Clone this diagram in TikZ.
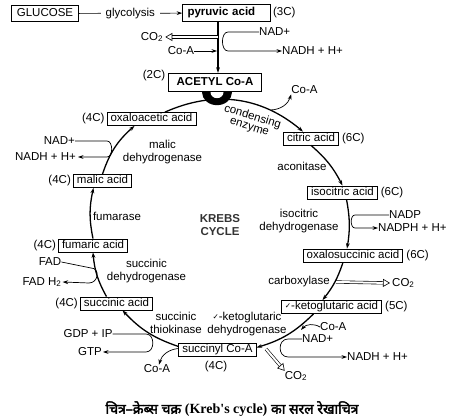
\documentclass[tikz,border=0pt]{standalone}
\usepackage{fontspec}
\setmainfont{Liberation Sans}
\newfontfamily\hindifont[Script=Devanagari,FakeBold=2.5]{Noto Sans}
\newfontfamily\capfont{Liberation Serif}
\newfontfamily\symfont{DejaVu Sans}
\usetikzlibrary{%
        arrows.meta%
    }
\newcommand{\ketick}{\raisebox{1.5pt}{\symfont\fontsize{7.5}{7.5}\selectfont ✓}}

\begin{document}
\begin{tikzpicture}[x=1pt,y=-1pt,
    font=\fontsize{11.5}{13}\selectfont,
    >={Stealth[length=5.5pt,width=3.8pt]},
    box/.style={draw,line width=0.8pt,fill=white,inner xsep=3.5pt,inner ysep=1.2pt,
      text height=8.3pt,text depth=2.3pt},
    topbox/.style={box,inner xsep=5pt,inner ysep=3pt},
    heavy/.style={font=\fontsize{11.5}{13}\selectfont\bfseries},
    lbl/.style={inner sep=0pt},
    cyc/.style={->,line width=1.3pt,bend left=#1},
    cyc/.default=12,
    link/.style={line width=0.7pt},
    hollow/.style={double,double distance=2pt,line width=0.6pt,
      -{Triangle[open,length=7pt,width=8pt]}}]
  \useasboundingbox (0,0) rectangle (453,419);

  % glycolysis and link reaction
  \node[topbox] (glucose) at (45,13.5) {GLUCOSE};
  \node[topbox,heavy,text width=78pt] (pyruvic) at (226.5,13) {pyruvic acid};
  \node[lbl,anchor=west] (c3) at ([xshift=2pt]pyruvic.east) {(3C)};
  \draw[link,->] (glucose) -- node[fill=white,inner xsep=5pt] (glyco) {glycolysis} (pyruvic);
  \node[topbox,heavy,inner xsep=8pt,inner ysep=4pt] (acetyl) at (215,82.5) {ACETYL Co-A};
  \node[lbl] (c2) at (154,76) {(2C)};
  \draw[->,line width=1.1pt] ([xshift=3pt]acetyl.north |- pyruvic.south) -- ([xshift=3pt]acetyl.north);
  \node[lbl] (co2a) at (152,37) {CO\textsubscript{2}};
  \draw[hollow] ([xshift=3pt]acetyl.north |- co2a) -- ([xshift=2pt]co2a.east);% CO2 out
  \node[lbl] (coa1) at (181,51) {Co-A};
  \draw[link,->] (coa1.east) -- ([xshift=2pt]acetyl.north |- coa1);
  \node[lbl,anchor=west] (nad1) at (259,32) {NAD+};
  \node[lbl,anchor=west] (nadh1) at (282,51) {NADH + H+};
  \draw[link,->] (nad1.west) -- (228,32) to[out=180,in=180] (228,51) -- (nadh1.west);
  \fill ([xshift=-13pt]acetyl.south) arc[start angle=180,end angle=360,x radius=15pt,y radius=13pt] -- cycle;% cup
  \fill[white] ([xshift=-4.5pt]acetyl.south) arc[start angle=180,end angle=360,x radius=6.5pt,y radius=6pt] -- cycle;

  % acids of the cycle
  \node[box] (oxalo) at (151.5,119) {oxaloacetic acid};
  \node[box] (citric) at (311,138.5) {citric acid};
  \node[box] (isocit) at (342.5,192.5) {isocitric acid};
  \node[box] (oxsuc) at (353,255.5) {oxalosuccinic acid};
  \node[box] (keto) at (331.5,307) {\ketick-ketoglutaric acid};
  \node[box] (sucoa) at (217.5,349.5) {succinyl Co-A};
  \node[box] (succ) at (116.5,303.5) {succinic acid};
  \node[box] (fum) at (93,245.5) {fumaric acid};
  \node[box] (malic) at (102.5,181) {malic acid};
  \node[lbl,anchor=east] (c4a) at ([xshift=-2pt]oxalo.west) {(4C)};
  \node[lbl,anchor=east] (c4b) at ([xshift=-2pt]malic.west) {(4C)};
  \node[lbl,anchor=east] (c4c) at ([xshift=-2pt]fum.west) {(4C)};
  \node[lbl,anchor=east] (c4d) at ([xshift=-2pt]succ.west) {(4C)};
  \node[lbl] (c4e) at (216,367) {(4C)};
  \node[lbl,anchor=west] (c6a) at ([xshift=3pt]citric.east) {(6C)};
  \node[lbl,anchor=west] (c6b) at ([xshift=3pt]isocit.east) {(6C)};
  \node[lbl,anchor=west] (c6c) at ([xshift=3pt]oxsuc.east) {(6C)};
  \node[lbl,anchor=west] (c5) at ([xshift=3pt]keto.east) {(5C)};

  % the cycle
  \draw[cyc=32] ([xshift=13.5pt]oxalo.north) to ([xshift=-8pt]citric.north);
  \draw[cyc=11] (citric.south) to (isocit.north);
  \draw[cyc=10] ([xshift=4pt]isocit.south) to ([xshift=-6pt]oxsuc.north);
  \draw[cyc=10] ([xshift=-10pt]oxsuc.south) to ([xshift=-9pt]keto.north);
  \draw[cyc=14] ([xshift=-18pt]keto.south) to ([yshift=2pt]sucoa.east);
  \draw[cyc=14] ([yshift=3pt]sucoa.west) to ([xshift=6pt]succ.south);
  \draw[cyc=12] ([xshift=-10pt]succ.north) to (fum.south);
  \draw[cyc=12] (fum.north) to ([xshift=-9pt]malic.south);
  \draw[cyc=15] (malic.north) to ([xshift=-17pt]oxalo.south);
  \node[lbl,align=center,heavy,text=black!80] (krebs) at (220,225.5) {KREBS\\CYCLE};

  % enzymes and side products
  \node[lbl,rotate=-17,align=center,font=\fontsize{11.5}{10.5}\selectfont] (cond) at (251,122) {condensing\\enzyme};
  \node[lbl] (coa2) at (304.5,90) {Co-A};
  \coordinate (x1) at (271,110);
  \draw[link,->] (x1) to[bend right=35] (coa2.south west);
  \node[lbl] (acon) at (302,166) {aconitase};
  \node[lbl,align=center] (idh) at (299,221.5) {isocitric\\dehydrogenase};
  \node[lbl,anchor=west] (nadp) at (389,215) {NADP};
  \node[lbl,anchor=west] (nadph) at (378,228) {NADPH + H+};
  \draw[link,->] (nadp.west) -- (355,215) to[out=180,in=180] (355,228) -- (nadph.west);
  \node[lbl] (carbox) at (299,282) {carboxylase};
  \coordinate (x2) at (336,282);
  \node[lbl,anchor=west] (co2b) at (392,283) {CO\textsubscript{2}};
  \draw[hollow] (x2) -- ([xshift=-2pt]co2b.west);
  \node[lbl,align=center] (kdh) at (247,324.5) {\ketick-ketoglutaric\\dehydrogenase};
  \node[lbl,anchor=west] (coa3) at (320,327) {Co-A};
  \coordinate (x4) at (301,330);
  \draw[link,->] (coa3.west) to[bend right=40] (x4);
  \node[lbl,anchor=west] (nad3) at (302,339) {NAD+};
  \node[lbl,anchor=west] (nadh3) at (347,357) {NADH + H+};
  \draw[link,->] (nad3.west) -- (288,339) to[out=180,in=180,looseness=1.5] (288,357) -- (nadh3.west);
  \coordinate (x3) at (266,349);
  \node[lbl] (co2c) at (296,376) {CO\textsubscript{2}};
  \draw[hollow] (x3) -- (co2c.north west);
  \node[lbl,align=center] (stk) at (176,322.5) {succinic\\thiokinase};
  \node[lbl] (coa4) at (157,369) {Co-A};
  \draw[link,->] ([yshift=1pt]sucoa.west) to[bend right=35] ([xshift=2pt]coa4.north);
  \node[lbl] (gdp) at (88,334) {GDP + IP};
  \node[lbl] (gtp) at (90,352) {GTP};
  \draw[link,->] (gdp.east) -- (146,334) to[out=0,in=0,looseness=1.3] (146,352) -- ([xshift=1pt]gtp.east);
  \node[lbl,align=center] (sdh) at (146.5,271.5) {succinic\\dehydrogenase};
  \node[lbl] (fad) at (50,262) {FAD};
  \node[lbl] (fadh) at (42,282) {FAD H\textsubscript{2}};
  \draw[link,->] (fad.east) -- (91,268) to[out=0,in=0,looseness=1.6] (89,283) -- ([xshift=1pt]fadh.east);
  \node[lbl] (fumase) at (117,216) {fumarase};
  \node[lbl,align=center] (mdh) at (162.5,152) {malic\\dehydrogenase};
  \node[lbl,anchor=east] (nad2) at (75,141) {NAD+};
  \node[lbl,anchor=east] (nadh2) at (76,157) {NADH + H+};
  \draw[link,->] (nad2.east) -- (107,141) to[out=0,in=0] (107,157) -- ([xshift=2pt]nadh2.east);

  % caption
  \node[lbl,font=\fontsize{14}{16}\selectfont] (cap) at (232,409)
    {\hindifont चित्र–क्रेब्स चक्र {\capfont\bfseries (Kreb's cycle)} का सरल रेखाचित्र};
\end{tikzpicture}
\end{document}
